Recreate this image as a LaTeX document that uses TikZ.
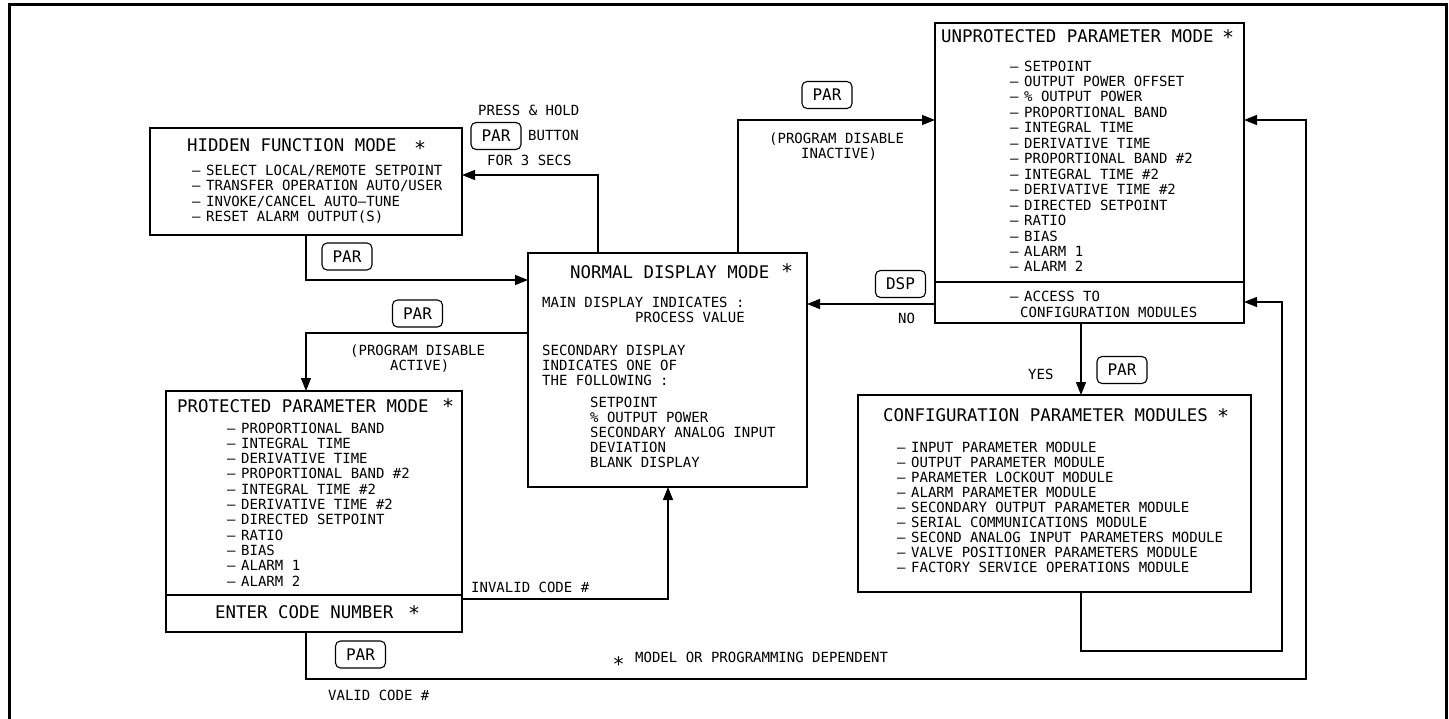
\documentclass[tikz,border=0pt]{standalone}
\usepackage{fontspec}
\setmainfont{DejaVu Sans Mono}
\newfontfamily\starfont{DejaVu Sans}
\usetikzlibrary{arrows.meta}

\newcommand{\lstitem}[1]{\makebox[14pt][l]{\textendash}#1}

\begin{document}
\begin{tikzpicture}[x=1pt,y=-1pt,
  box/.style={draw,line width=1.3pt,inner sep=0,outer sep=0,anchor=north west},
  flow/.style={line width=1.2pt,-{Triangle[length=13pt,width=10pt]}},
  btn/.style={draw,line width=1.1pt,rounded corners=5pt,minimum width=50pt,
    minimum height=27pt,inner sep=0,font=\fontsize{16}{16}\selectfont},
  head/.style={anchor=base west,inner sep=0,font=\fontsize{17.4}{18}\selectfont},
  txt/.style={anchor=base west,inner sep=0,font=\fontsize{14}{15}\selectfont},
  astx/.style={anchor=base,inner sep=0,font=\starfont\fontsize{20}{20}\selectfont}]
  \useasboundingbox (0,0) rectangle (1449,718);

  % frame
  \draw[line width=3pt] (9,720) -- (9,4.5) -- (1446,4.5) -- (1446,720);

  % hidden function mode
  \node[box,minimum width=312,minimum height=107] (hidden) at (150,128) {};
  \node[head] (hidt) at (187,151) {HIDDEN FUNCTION MODE};
  \node[astx] (hids) at (420,155.5) {*};
  \foreach \lbl [count=\i from 0] in {SELECT LOCAL/REMOTE SETPOINT,
      TRANSFER OPERATION AUTO/USER, INVOKE/CANCEL AUTO\textendash TUNE,
      RESET ALARM OUTPUT(S)}
    \node[txt] (hid\i) at (192,{175+15.6*\i}) {\lstitem{\lbl}};

  % normal display mode
  \node[box,minimum width=279,minimum height=234] (normal) at (528,253) {};
  \node[head] (normt) at (570,278) {NORMAL DISPLAY MODE};
  \node[astx] (norms) at (787,278.5) {*};
  \node[txt] (norm1) at (542,307) {MAIN DISPLAY INDICATES :};
  \node[txt] (norm2) at (635,322) {PROCESS VALUE};
  \node[txt] (norm3) at (542,355) {SECONDARY DISPLAY};
  \node[txt] (norm4) at (542,370) {INDICATES ONE OF};
  \node[txt] (norm5) at (542,385) {THE FOLLOWING :};
  \foreach \lbl [count=\i from 0] in {SETPOINT, \% OUTPUT POWER,
      SECONDARY ANALOG INPUT, DEVIATION, BLANK DISPLAY}
    \node[txt] (disp\i) at (590,{407+15.2*\i}) {\lbl};

  % unprotected parameter mode
  \node[box,minimum width=309,minimum height=300] (unprot) at (935,23) {};
  \draw[line width=1.3pt] (unprot.west |- 0,282) -- (unprot.east |- 0,282);
  \node[head] (unpt) at (941,42) {UNPROTECTED PARAMETER MODE};
  \node[astx] (unps) at (1228,44.5) {*};
  \foreach \lbl [count=\i from 0] in {SETPOINT, OUTPUT POWER OFFSET,
      \% OUTPUT POWER, PROPORTIONAL BAND, INTEGRAL TIME, DERIVATIVE TIME,
      PROPORTIONAL BAND \#2, INTEGRAL TIME \#2, DERIVATIVE TIME \#2,
      DIRECTED SETPOINT, RATIO, BIAS, ALARM 1, ALARM 2}
    \node[txt] (unp\i) at (1010,{71+15.46*\i}) {\lstitem{\lbl}};
  \node[txt] (acc1) at (1010,301) {\lstitem{ACCESS TO}};
  \node[txt] (acc2) at (1020,317) {CONFIGURATION MODULES};

  % configuration parameter modules
  \node[box,minimum width=393,minimum height=197] (config) at (858,395) {};
  \node[head] (cfgt) at (883,421) {CONFIGURATION PARAMETER MODULES};
  \node[astx] (cfgs) at (1223,423.5) {*};
  \foreach \lbl [count=\i from 0] in {INPUT PARAMETER MODULE,
      OUTPUT PARAMETER MODULE, PARAMETER LOCKOUT MODULE,
      ALARM PARAMETER MODULE, SECONDARY OUTPUT PARAMETER MODULE,
      SERIAL COMMUNICATIONS MODULE, SECOND ANALOG INPUT PARAMETERS MODULE,
      VALVE POSITIONER PARAMETERS MODULE, FACTORY SERVICE OPERATIONS MODULE}
    \node[txt] (cfg\i) at (897,{452+15.12*\i}) {\lstitem{\lbl}};

  % protected parameter mode
  \node[box,minimum width=296,minimum height=241] (prot) at (166,391) {};
  \draw[line width=1.3pt] (prot.west |- 0,595) -- (prot.east |- 0,595);
  \node[head] (prott) at (177,412) {PROTECTED PARAMETER MODE};
  \node[astx] (prots) at (448,413.5) {*};
  \foreach \lbl [count=\i from 0] in {PROPORTIONAL BAND, INTEGRAL TIME,
      DERIVATIVE TIME, PROPORTIONAL BAND \#2, INTEGRAL TIME \#2,
      DERIVATIVE TIME \#2, DIRECTED SETPOINT, RATIO, BIAS, ALARM 1, ALARM 2}
    \node[txt] (prot\i) at (227,{433+15.3*\i}) {\lstitem{\lbl}};
  \node[head] (code) at (215,618) {ENTER CODE NUMBER};
  \node[astx] (codes) at (414,620.5) {*};

  % turning points of the return paths
  \coordinate (validturn) at (1306,679);
  \coordinate (cfgturn) at (1282,651);

  % connectors
  \draw[flow] (normal.north -| 598,0) |- (hidden.east |- 0,175);
  \draw[flow] (hidden.south -| 306,0) |- (normal.west |- 0,280);
  \draw[flow] (normal.north -| 738,0) |- (unprot.west |- 0,120);
  \draw[flow] (unprot.west |- 0,304) -- (normal.east |- 0,304);
  \draw[flow] (normal.west |- 0,333) -| (prot.north -| 306,0);
  \draw[flow] (prot.east |- 0,599) -| (normal.south -| 668,0);
  \draw[flow] (prot.south -| 306,0) |- (validturn) |- (unprot.east |- 0,120);
  \draw[flow] (unprot.south -| 1081,0) -- (config.north -| 1081,0);
  \draw[flow] (config.south -| 1081,0) |- (cfgturn) |- (unprot.east |- 0,302);

  % keys and labels on the connectors
  \node[txt] (press) at (478,115) {PRESS \& HOLD};
  \node[btn] (parhold) at (496,136) {PAR};
  \node[txt] (button) at (528,140) {BUTTON};
  \node[txt] (secs) at (487,165) {FOR 3 SECS};
  \node[btn] (parhid) at (347,256.5) {PAR};
  \node[btn] (parunp) at (827,95) {PAR};
  \node[txt] (inact1) at (769,143) {(PROGRAM DISABLE};
  \node[txt] (inact2) at (801,158) {INACTIVE)};
  \node[btn] (dsp) at (900.5,284) {DSP};
  \node[txt] (no) at (898,323) {NO};
  \node[btn] (parprot) at (417.5,313.5) {PAR};
  \node[txt] (act1) at (350,355) {(PROGRAM DISABLE};
  \node[txt] (act2) at (390,370) {ACTIVE)};
  \node[txt] (invalid) at (471,592) {INVALID CODE \#};
  \node[btn] (parvalid) at (360.5,654.5) {PAR};
  \node[txt] (valid) at (328,700) {VALID CODE \#};
  \node[txt] (yes) at (1028,379) {YES};
  \node[btn] (parcfg) at (1122,370) {PAR};

  % footnote
  \node[astx] (notes) at (618.5,671.5) {*};
  \node[txt] (note) at (635,662) {MODEL OR PROGRAMMING DEPENDENT};
\end{tikzpicture}
\end{document}
